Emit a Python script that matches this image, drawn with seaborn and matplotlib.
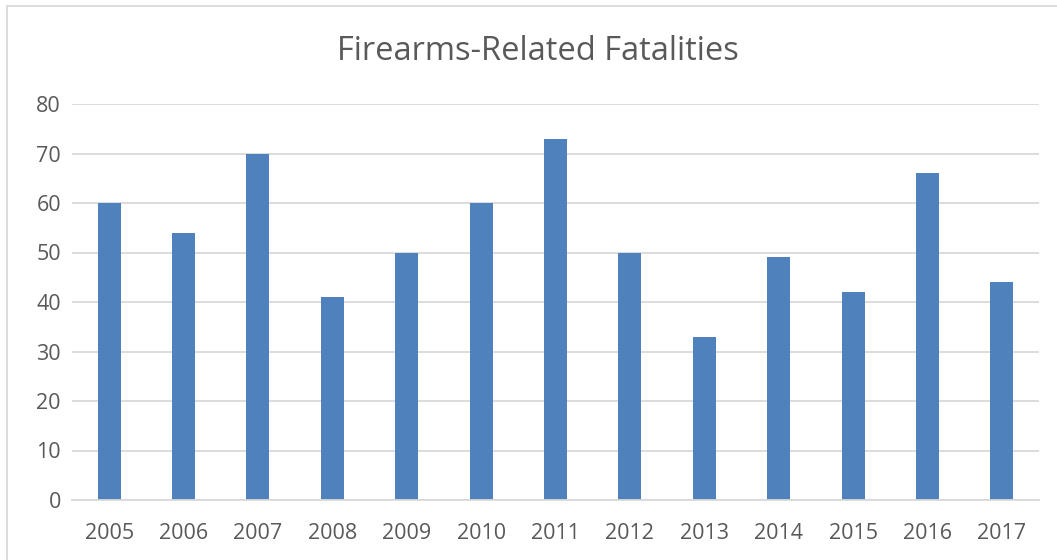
import matplotlib
matplotlib.use("Agg")
import matplotlib.pyplot as plt
import seaborn as sns
import pandas as pd
from matplotlib.patches import Rectangle

# Valores
years = ["2005", "2006", "2007", "2008", "2009", "2010", "2011",
         "2012", "2013", "2014", "2015", "2016", "2017"]
fatalities = [60, 54, 70, 41, 50, 60, 73, 50, 33, 49, 42, 66, 44]

df = pd.DataFrame({"year": years, "fatalities": fatalities})

sns.set_style("white")
plt.rcParams["font.family"] = ["Open Sans", "DejaVu Sans"]

fig = plt.figure(figsize=(10.57, 5.6), dpi=100)
ax = fig.add_axes([72 / 1057, 60 / 560, (1039 - 72) / 1057, 396 / 560])

sns.barplot(data=df, x="year", y="fatalities", color="#4F81BD",
            saturation=1, width=0.31, linewidth=0, ax=ax)

ax.set_xlim(-0.5, len(years) - 0.5)
ax.set_ylim(0, 80)
ax.set_yticks(range(0, 81, 10))
ax.yaxis.grid(True, color="#D9D9D9", linewidth=1.3)
ax.set_axisbelow(True)
for s in ["top", "right", "left"]:
    ax.spines[s].set_visible(False)
ax.spines["bottom"].set_color("#D9D9D9")
ax.spines["bottom"].set_linewidth(1.3)
ax.tick_params(axis="both", length=0, labelsize=15.5, colors="#595959")
ax.tick_params(axis="x", pad=16.5)
ax.tick_params(axis="y", pad=8)
ax.set_xlabel("")
ax.set_ylabel("")

fig.text(538 / 1057, 1 - 51 / 560, "Firearms-Related Fatalities",
         ha="center", va="center", fontsize=23.5, color="#595959")

# moldura do gráfico
fig.patches.append(Rectangle((7 / 1057, -0.02), 1.05, 1 - 5.5 / 560 + 0.02,
                             transform=fig.transFigure, fill=False,
                             edgecolor="#D9D9D9", linewidth=1.3))

fig.savefig("out.png", dpi=100)
plt.close(fig)
